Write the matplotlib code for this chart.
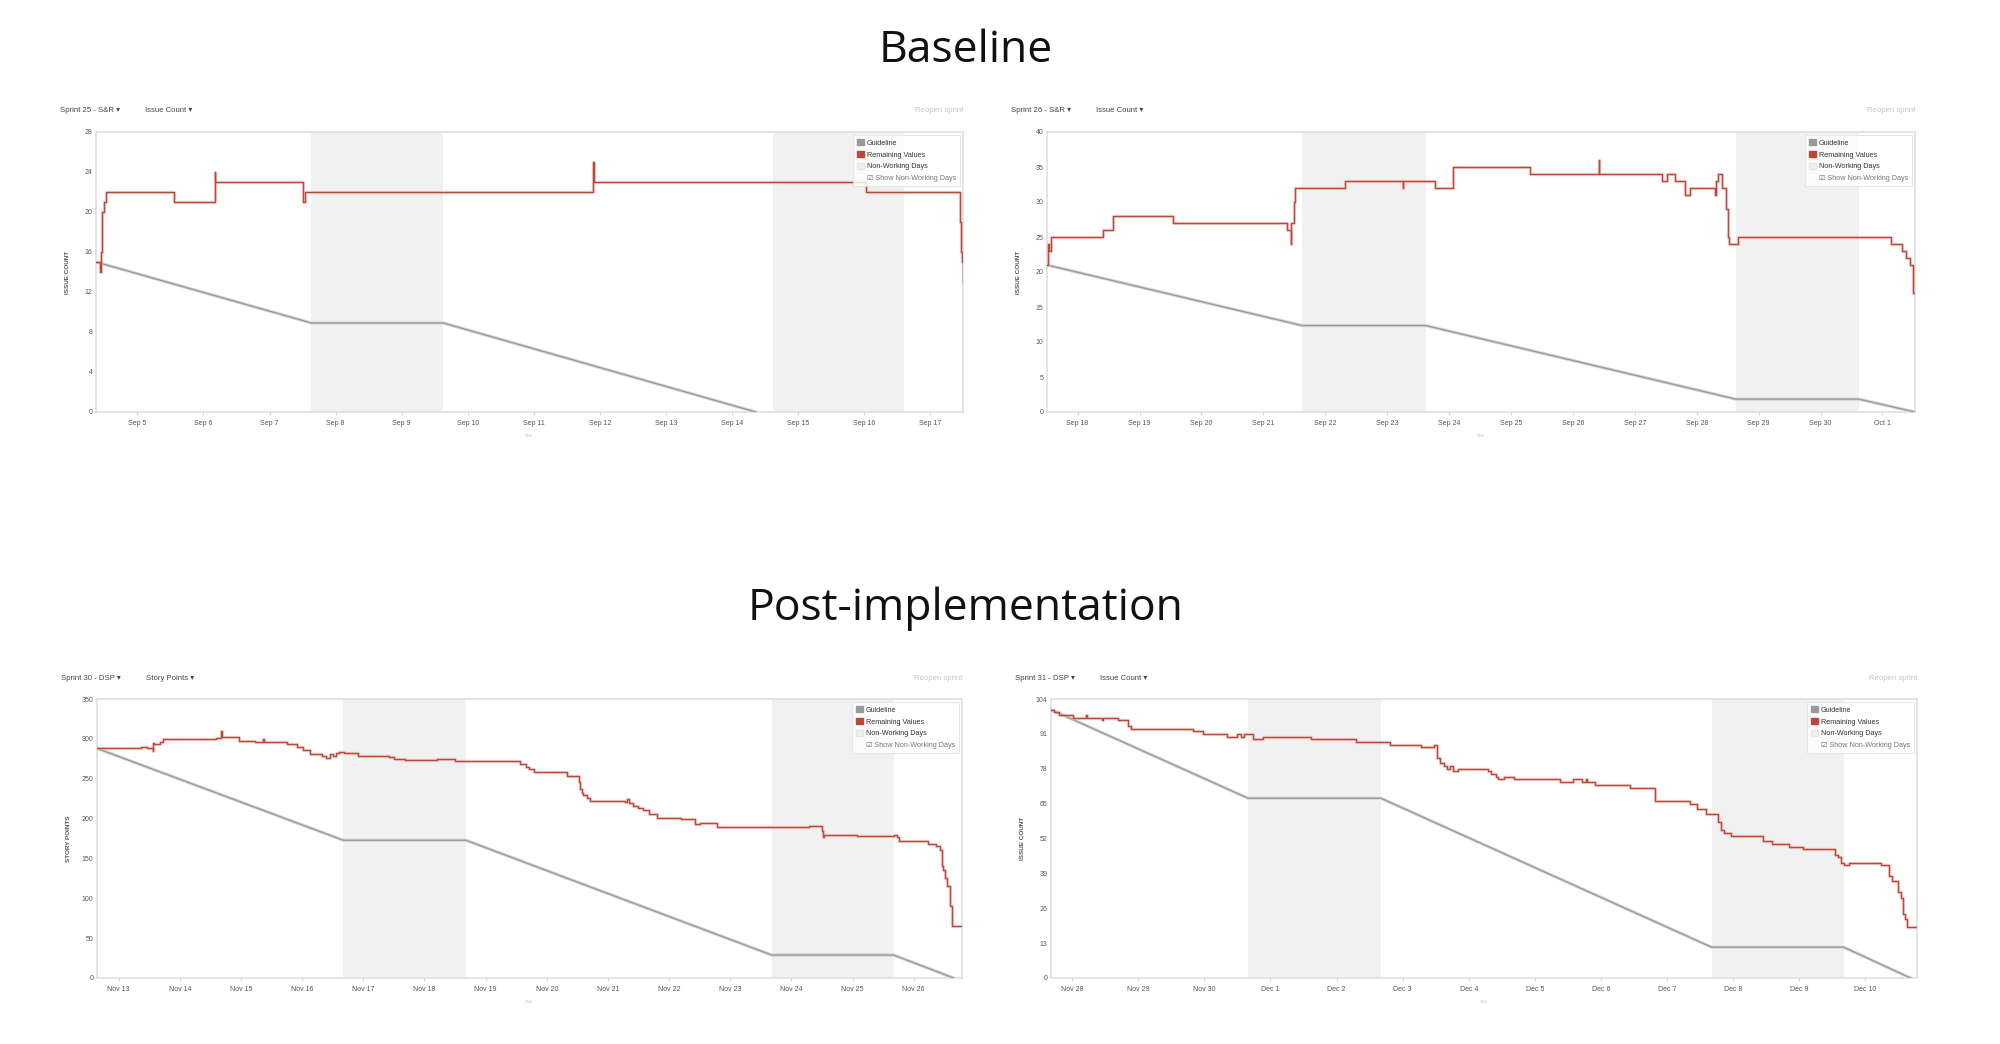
import matplotlib.pyplot as plt
import matplotlib.patches as patches
from matplotlib.lines import Line2D

plt.rcParams['font.family'] = ['Liberation Sans', 'DejaVu Sans']

# -------------------------- Data --------------------------
# x values are in "day of month" units; days after month end keep counting
# (Oct 1 -> 31, Dec 1 -> 31) so every sprint sits on one continuous axis.

# Sprint 25 - S&R (baseline, issue count)
s25_name = 'Sprint 25 - S&R'
s25_measure = 'Issue Count'
s25_ylabel = 'ISSUE COUNT'
s25_xlim = (4.373, 17.50)
s25_ticks = [5, 6, 7, 8, 9, 10, 11, 12, 13, 14, 15, 16, 17]
s25_ticklabels = ['Sep 5', 'Sep 6', 'Sep 7', 'Sep 8', 'Sep 9', 'Sep 10', 'Sep 11',
                  'Sep 12', 'Sep 13', 'Sep 14', 'Sep 15', 'Sep 16', 'Sep 17']
s25_yticks = [0, 4, 8, 12, 16, 20, 24, 28]
s25_weekends = [(7.635, 9.633), (14.624, 16.612)]
s25_guide_t = [4.373, 7.635, 9.633, 14.363]
s25_guide_v = [15, 8.9, 8.9, 0]
s25_rem_t = [4.373, 4.44, 4.45, 4.47, 4.49, 4.52, 5.55, 6.168, 6.175, 7.50, 7.53,
             11.90, 11.907, 16.03, 17.45, 17.47, 17.49, 17.495, 17.50]
s25_rem_v = [15, 14, 16, 20, 21, 22, 21, 24, 23, 21, 22,
             25, 23, 22, 19, 16, 15, 13, 13]

# Sprint 26 - S&R (baseline, issue count)
s26_name = 'Sprint 26 - S&R'
s26_measure = 'Issue Count'
s26_ylabel = 'ISSUE COUNT'
s26_xlim = (17.506, 31.525)
s26_ticks = [18, 19, 20, 21, 22, 23, 24, 25, 26, 27, 28, 29, 30, 31]
s26_ticklabels = ['Sep 18', 'Sep 19', 'Sep 20', 'Sep 21', 'Sep 22', 'Sep 23', 'Sep 24',
                  'Sep 25', 'Sep 26', 'Sep 27', 'Sep 28', 'Sep 29', 'Sep 30', 'Oct 1']
s26_yticks = [0, 5, 10, 15, 20, 25, 30, 35, 40]
s26_weekends = [(21.625, 23.623), (28.628, 30.616)]
s26_guide_t = [17.506, 21.625, 23.623, 28.628, 30.616, 31.525]
s26_guide_v = [21, 12.35, 12.35, 1.84, 1.84, 0]
s26_rem_t = [17.506, 17.526, 17.537, 17.567, 18.412, 18.566, 19.545, 21.388, 21.440,
             21.450, 21.491, 21.512, 22.315, 23.252, 23.258, 23.767, 24.056, 25.312,
             26.414, 26.420, 27.444, 27.526, 27.650, 27.804, 27.887, 28.288, 28.309,
             28.340, 28.402, 28.474, 28.505, 28.525, 28.659, 31.131, 31.317, 31.378,
             31.440, 31.492, 31.525]
s26_rem_v = [21, 24, 23, 25, 26, 28, 27, 26, 24,
             27, 30, 32, 33, 32, 33, 32, 35, 34,
             36, 34, 33, 34, 33, 31, 32, 31, 33,
             34, 32, 29, 25, 24, 25, 24, 23, 22,
             21, 17, 17]

# Sprint 30 - DSP (post-implementation, story points)
s30_name = 'Sprint 30 - DSP'
s30_measure = 'Story Points'
s30_ylabel = 'STORY POINTS'
s30_xlim = (12.645, 26.789)
s30_ticks = [13, 14, 15, 16, 17, 18, 19, 20, 21, 22, 23, 24, 25, 26]
s30_ticklabels = ['Nov 13', 'Nov 14', 'Nov 15', 'Nov 16', 'Nov 17', 'Nov 18', 'Nov 19',
                  'Nov 20', 'Nov 21', 'Nov 22', 'Nov 23', 'Nov 24', 'Nov 25', 'Nov 26']
s30_yticks = [0, 50, 100, 150, 200, 250, 300, 350]
s30_weekends = [(16.674, 18.678), (23.678, 25.672)]
s30_guide_t = [12.645, 16.674, 18.678, 23.678, 25.672, 26.653]
s30_guide_v = [288, 172.8, 172.8, 28.8, 28.8, 0]
s30_rem_t = [12.645, 13.365, 13.470, 13.553, 13.560, 13.574, 13.678, 13.731, 14.597,
             14.670, 14.681, 14.962, 15.223, 15.359, 15.380, 15.745, 15.912, 16.017,
             16.121, 16.319, 16.392, 16.455, 16.497, 16.549, 16.601, 16.685, 16.914,
             17.415, 17.499, 17.687, 18.209, 18.501, 19.555, 19.660, 19.712, 19.795,
             20.338, 20.526, 20.547, 20.568, 20.599, 20.651, 20.704, 21.278, 21.319,
             21.340, 21.403, 21.486, 21.570, 21.674, 21.800, 22.196, 22.426, 22.509,
             22.582, 22.791, 24.284, 24.493, 24.514, 24.535, 25.067, 25.683, 25.725,
             25.766, 26.236, 26.372, 26.424, 26.455, 26.476, 26.507, 26.549, 26.591,
             26.622, 26.789]
s30_rem_v = [288, 290, 289, 285, 295, 293, 296, 300, 301,
             310, 302, 297, 296, 300, 296, 294, 290, 286,
             281, 279, 276, 281, 279, 282, 284, 282, 278,
             277, 275, 274, 275, 272, 268, 265, 262, 258,
             254, 246, 237, 232, 229, 226, 222, 221, 225,
             220, 216, 213, 211, 206, 201, 199, 193, 195,
             194, 190, 191, 185, 177, 180, 178, 180, 177,
             172, 168, 165, 160, 140, 135, 125, 115, 90,
             65, 65]

# Sprint 31 - DSP (post-implementation, issue count)
s31_name = 'Sprint 31 - DSP'
s31_measure = 'Issue Count'
s31_ylabel = 'ISSUE COUNT'
s31_xlim = (27.681, 40.780)
s31_ticks = [28, 29, 30, 31, 32, 33, 34, 35, 36, 37, 38, 39, 40]
s31_ticklabels = ['Nov 28', 'Nov 29', 'Nov 30', 'Dec 1', 'Dec 2', 'Dec 3', 'Dec 4',
                  'Dec 5', 'Dec 6', 'Dec 7', 'Dec 8', 'Dec 9', 'Dec 10']
s31_yticks = [0, 13, 26, 39, 52, 65, 78, 91, 104]
s31_weekends = [(30.664, 32.672), (37.672, 39.670)]
s31_guide_t = [27.681, 30.664, 32.672, 37.672, 39.670, 40.683]
s31_guide_v = [100, 67, 67, 11.5, 11.5, 0]
s31_rem_t = [27.681, 27.730, 27.807, 28.019, 28.212, 28.232, 28.454, 28.473, 28.695,
             28.840, 28.888, 29.824, 29.979, 30.336, 30.500, 30.558, 30.606, 30.741,
             30.886, 31.610, 32.295, 32.807, 33.280, 33.473, 33.521, 33.569, 33.618,
             33.666, 33.714, 33.763, 33.840, 34.293, 34.342, 34.419, 34.438, 34.535,
             34.680, 35.384, 35.577, 35.712, 35.770, 35.790, 35.905, 36.436, 36.822,
             37.353, 37.450, 37.595, 37.768, 37.817, 37.865, 37.961, 38.444, 38.589,
             38.849, 39.052, 39.535, 39.583, 39.631, 39.680, 39.747, 40.230, 40.355,
             40.403, 40.500, 40.539, 40.568, 40.597, 40.625, 40.780]
s31_rem_v = [100, 99, 98, 97, 98, 97, 96, 97, 96,
             94, 93, 92, 91, 90, 91, 90, 91, 89,
             90, 89, 88, 87, 86, 87, 82, 80, 79,
             78, 79, 77, 78, 77, 76, 75, 74, 75,
             74, 73, 74, 73, 74, 73, 72, 71, 66,
             65, 63, 61, 58, 55, 54, 53, 51, 50,
             49, 48, 46, 45, 43, 42, 43, 42, 38,
             36, 32, 30, 24, 22, 19, 19]

# -------------------------- Layout --------------------------
W, H = 2000, 1044
PT = 0.72  # points per pixel at dpi 100

red = '#b8493c'
gray = '#9a9a9a'
shade = '#f1f1f1'

fig = plt.figure(figsize=(W / 100, H / 100), dpi=100)

# axes rectangles in pixels: left, right, top, bottom
boxes = [(96, 963, 132, 412), (1047, 1915, 132, 412),
         (97, 962, 699, 978), (1051, 1917, 699, 978)]

sprints = [
    (s25_name, s25_measure, s25_ylabel, s25_xlim, s25_ticks, s25_ticklabels, s25_yticks,
     s25_weekends, s25_guide_t, s25_guide_v, s25_rem_t, s25_rem_v),
    (s26_name, s26_measure, s26_ylabel, s26_xlim, s26_ticks, s26_ticklabels, s26_yticks,
     s26_weekends, s26_guide_t, s26_guide_v, s26_rem_t, s26_rem_v),
    (s30_name, s30_measure, s30_ylabel, s30_xlim, s30_ticks, s30_ticklabels, s30_yticks,
     s30_weekends, s30_guide_t, s30_guide_v, s30_rem_t, s30_rem_v),
    (s31_name, s31_measure, s31_ylabel, s31_xlim, s31_ticks, s31_ticklabels, s31_yticks,
     s31_weekends, s31_guide_t, s31_guide_v, s31_rem_t, s31_rem_v),
]


def draw_panel(box, sprint):
    (name, measure, ylabel, xlim, ticks, ticklabels, yticks,
     weekends, guide_t, guide_v, rem_t, rem_v) = sprint
    left, right, top, bottom = box
    ax = fig.add_axes([left / W, 1 - bottom / H, (right - left) / W, (bottom - top) / H])

    # non-working days
    for a, b in weekends:
        ax.axvspan(a, b, color=shade, lw=0, zorder=0)

    # guideline (soft halo + line)
    ax.plot(guide_t, guide_v, color='#d9d9d9', lw=2.4, zorder=2)
    ax.plot(guide_t, guide_v, color=gray, lw=1.0, zorder=3)

    # remaining values
    ax.step(rem_t, rem_v, where='post', color='#ecbdb6', lw=2.4, alpha=0.6, zorder=4)
    ax.step(rem_t, rem_v, where='post', color=red, lw=1.0, zorder=5)

    ax.set_xlim(*xlim)
    ax.set_ylim(yticks[0], yticks[-1])
    ax.set_xticks(ticks)
    ax.set_xticklabels(ticklabels)
    ax.set_yticks(yticks)
    ax.tick_params(axis='x', length=2.5, width=0.6, color='#cccccc', pad=3,
                   labelsize=5, labelcolor='#555555')
    ax.tick_params(axis='y', length=0, pad=2.5, labelsize=5, labelcolor='#555555')
    for sp in ax.spines.values():
        sp.set_color('#dddddd')
        sp.set_linewidth(1.1)

    ax.set_ylabel(ylabel, fontsize=4.6, fontweight='bold', color='#555555')
    ax.yaxis.set_label_coords(-26 / (right - left), 0.5)
    ax.set_xlabel('TIME', fontsize=2.6, color='#c8c8c8', labelpad=5)

    # header row above the chart
    ax.annotate(name + ' \u25be', xy=(0, 1), xycoords='axes fraction',
                xytext=(-36 * PT, 21 * PT), textcoords='offset points',
                ha='left', va='center', fontsize=5.6, color='#444444')
    ax.annotate(measure + ' \u25be', xy=(0, 1), xycoords='axes fraction',
                xytext=(49 * PT, 21 * PT), textcoords='offset points',
                ha='left', va='center', fontsize=5.6, color='#444444')
    ax.annotate('Reopen sprint', xy=(1, 1), xycoords='axes fraction',
                xytext=(0, 21 * PT), textcoords='offset points',
                ha='right', va='center', fontsize=5.6, color='#c4c4c4')

    # legend
    handles = [
        patches.Patch(facecolor='#999999', edgecolor='#999999'),
        patches.Patch(facecolor=red, edgecolor=red),
        patches.Patch(facecolor=shade, edgecolor='#e6e6e6'),
        Line2D([], [], color='none'),
    ]
    labels = ['Guideline', 'Remaining Values', 'Non-Working Days',
              '\u2611 Show Non-Working Days']
    leg = ax.legend(handles, labels, loc='upper right', fontsize=5.2,
                    frameon=True, fancybox=False, edgecolor='#e2e2e2',
                    handlelength=0.9, handleheight=0.9, handletextpad=0.4,
                    labelspacing=0.6, borderpad=0.55, borderaxespad=0.45)
    leg.get_frame().set_linewidth(0.8)
    leg.set_zorder(10)
    for t, c in zip(leg.get_texts(), ['#333333', '#333333', '#333333', '#777777']):
        t.set_color(c)
    return ax


for box, sprint in zip(boxes, sprints):
    draw_panel(box, sprint)

# section titles
fig.text(966 / W, 1 - 62 / H, 'Baseline', ha='center', va='baseline',
         fontsize=32, family='Open Sans', color='#111111')
fig.text(966 / W, 1 - 620 / H, 'Post-implementation', ha='center', va='baseline',
         fontsize=32, family='Open Sans', color='#111111')

fig.savefig('out.png', dpi=100, facecolor='white')
